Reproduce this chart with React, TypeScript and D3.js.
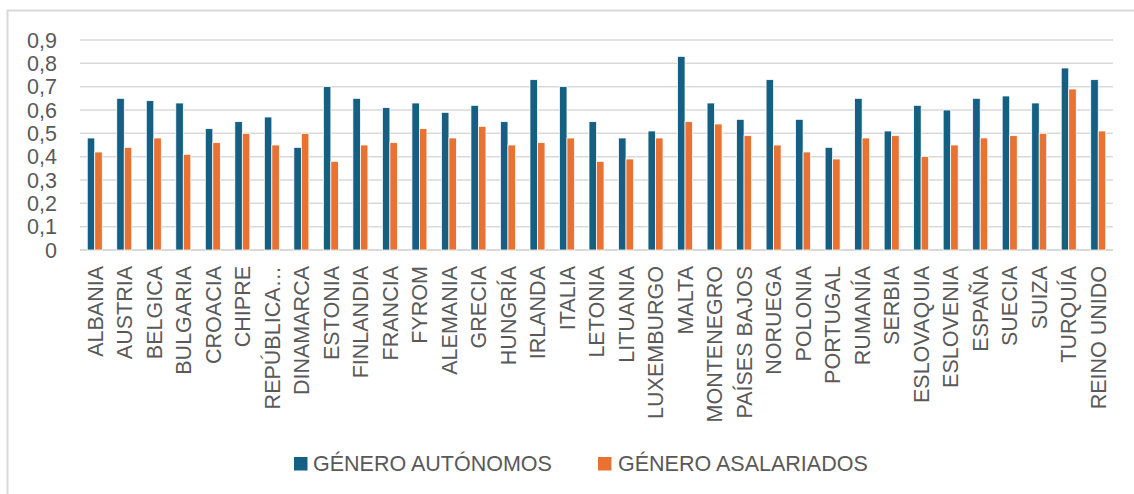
import React from "react";
import * as d3 from "d3";

const categories = [
  "ALBANIA", "AUSTRIA", "BELGICA", "BULGARIA", "CROACIA", "CHIPRE", "REPÚBLICA…",
  "DINAMARCA", "ESTONIA", "FINLANDIA", "FRANCIA", "FYROM", "ALEMANIA", "GRECIA",
  "HUNGRÍA", "IRLANDA", "ITALIA", "LETONIA", "LITUANIA", "LUXEMBURGO", "MALTA",
  "MONTENEGRO", "PAÍSES BAJOS", "NORUEGA", "POLONIA", "PORTUGAL", "RUMANÍA",
  "SERBIA", "ESLOVAQUIA", "ESLOVENIA", "ESPAÑA", "SUECIA", "SUIZA", "TURQUÍA",
  "REINO UNIDO",
];

const autonomos = [
  0.48, 0.65, 0.64, 0.63, 0.52, 0.55, 0.57, 0.44, 0.70, 0.65, 0.61, 0.63, 0.59, 0.62,
  0.55, 0.73, 0.70, 0.55, 0.48, 0.51, 0.83, 0.63, 0.56, 0.73, 0.56, 0.44, 0.65,
  0.51, 0.62, 0.60, 0.65, 0.66, 0.63, 0.78, 0.73,
];

const asalariados = [
  0.42, 0.44, 0.48, 0.41, 0.46, 0.50, 0.45, 0.50, 0.38, 0.45, 0.46, 0.52, 0.48, 0.53,
  0.45, 0.46, 0.48, 0.38, 0.39, 0.48, 0.55, 0.54, 0.49, 0.45, 0.42, 0.39, 0.48,
  0.49, 0.40, 0.45, 0.48, 0.49, 0.50, 0.69, 0.51,
];

const yTicks = [0, 0.1, 0.2, 0.3, 0.4, 0.5, 0.6, 0.7, 0.8, 0.9];
const seriesNames = ["GÉNERO AUTÓNOMOS", "GÉNERO ASALARIADOS"];
const colors = ["#156082", "#E97132"];

const W = 1134;
const H = 494;
const FONT = "'Liberation Sans', Arial, sans-serif";
const TEXT = "#595959";
const FS = 21.5;

export default function App() {
  const left = 80, right = 1113, top = 40, bottom = 250;
  const x = d3.scaleBand<string>().domain(categories).range([left, right]).padding(0);
  const y = d3.scaleLinear().domain([0, 0.9]).range([bottom, top]);
  const bw = 7.5;
  const fmt = (v: number) => (v === 0 ? "0" : d3.format(".1f")(v).replace(".", ","));

  return (
    <svg width={W} height={H} style={{ position: "absolute", left: 0, top: 0 }} fontFamily={FONT}>
      <rect x={0} y={0} width={W} height={H} fill="#fff" />
      <rect x={7.5} y={10.5} width={W + 10} height={H + 10} fill="none" stroke="#D9D9D9" strokeWidth={2} />
      {yTicks.map((t) => (
        <g key={t}>
          <line x1={left} x2={right} y1={y(t)} y2={y(t)} stroke="#D9D9D9" strokeWidth={t === 0 ? 2 : 1.5} />
          <text x={57} y={y(t)} dy="0.36em" textAnchor="end" fontSize={FS} fill={TEXT}>
            {fmt(t)}
          </text>
        </g>
      ))}
      {categories.map((c, i) => {
        const cx = (x(c) as number) + x.bandwidth() / 2;
        return (
          <g key={c}>
            <rect x={cx - bw} y={y(autonomos[i])} width={bw} height={bottom - y(autonomos[i])}
              fill={colors[0]} stroke="#fff" strokeWidth={0.75} />
            <rect x={cx} y={y(asalariados[i])} width={bw} height={bottom - y(asalariados[i])}
              fill={colors[1]} stroke="#fff" strokeWidth={0.75} />
            <text transform={`translate(${cx},266) rotate(-90)`} dy="0.36em" textAnchor="end"
              fontSize={FS} fill={TEXT}>
              {c}
            </text>
          </g>
        );
      })}
      <g>
        <rect x={294} y={457} width={13.5} height={13.5} fill={colors[0]} />
        <text x={313} y={471} fontSize={FS} fill={TEXT}>{seriesNames[0]}</text>
        <rect x={598} y={457} width={13.5} height={13.5} fill={colors[1]} />
        <text x={618} y={471} fontSize={FS} fill={TEXT}>{seriesNames[1]}</text>
      </g>
    </svg>
  );
}
